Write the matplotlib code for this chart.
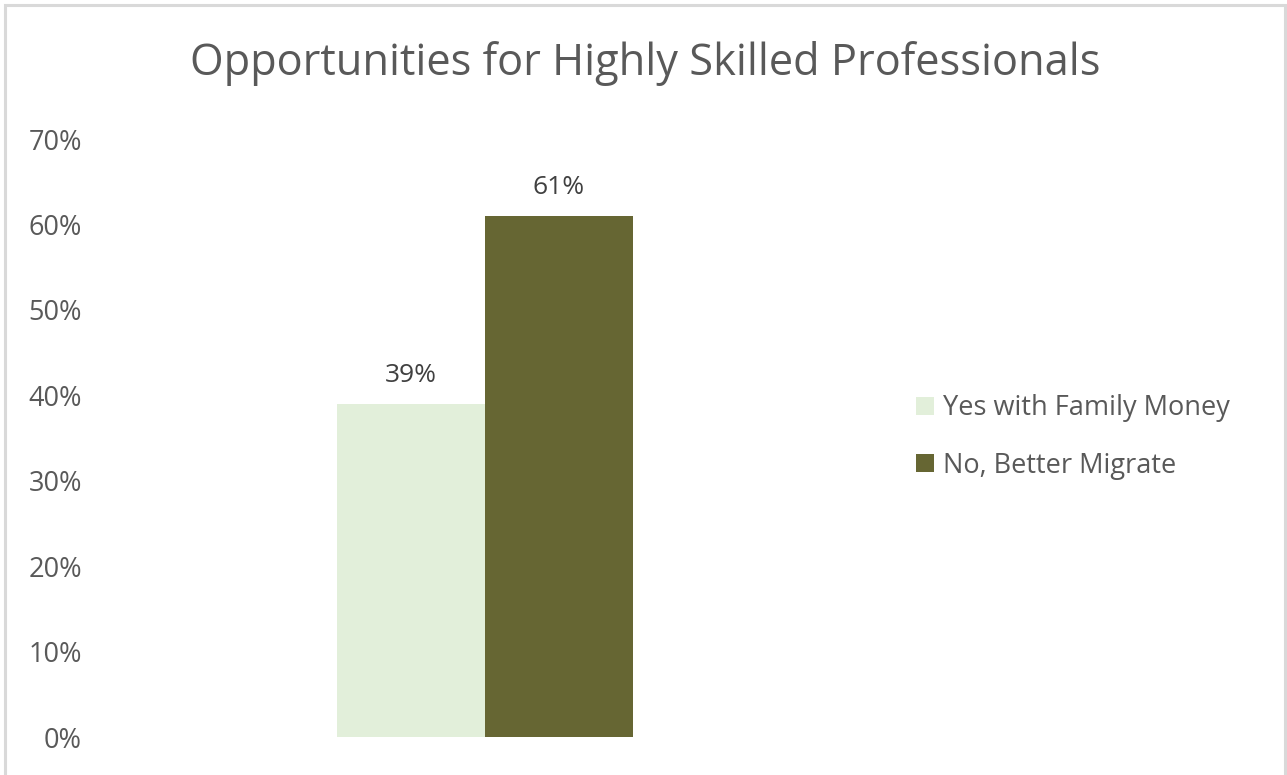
import matplotlib
matplotlib.use("Agg")
import matplotlib.pyplot as plt
from matplotlib.patches import Rectangle
from matplotlib.ticker import FuncFormatter

plt.rcParams['font.family'] = ['Open Sans', 'DejaVu Sans']

title = "Opportunities for Highly Skilled Professionals"
series = ["Yes with Family Money", "No, Better Migrate"]
values = [39, 61]
colors = ["#E2EFDA", "#666633"]
yticks = [0, 10, 20, 30, 40, 50, 60, 70]

TEXT = "#595959"
W, H = 1287, 775
fig = plt.figure(figsize=(W / 100, H / 100), dpi=100)

# light frame around the chart (bottom edge runs off the canvas)
fig.patches.append(Rectangle((4.5 / W, -0.05), (1284.5 - 4.5) / W, 1.05 - 4.5 / H,
                             transform=fig.transFigure, fill=False,
                             edgecolor="#D9D9D9", linewidth=2.2))

# plot area: y=0 at 737 px, y=70 at 139 px
left, right = 100, 870
y0_px, y70_px = 737, 139
ax = fig.add_axes([left / W, 1 - y0_px / H, (right - left) / W, (y0_px - y70_px) / H])
ax.set_ylim(0, 70)
ax.set_xlim(-1, 1)

bar_w = 148 / ((right - left) / 2)
offsets = [-bar_w / 2, bar_w / 2]
for off, v, c, name in zip(offsets, values, colors, series):
    ax.bar(off, v, width=bar_w, color=c, label=name, linewidth=0)
    ax.text(off, v + 1.9, f"{v}%", ha="center", va="bottom",
            fontsize=19, color="#404040")

ax.set_yticks(yticks)
ax.yaxis.set_major_formatter(FuncFormatter(lambda v, p: f"{v:.0f}%"))
ax.tick_params(axis="y", length=0, pad=13, labelsize=19.5, labelcolor=TEXT)
ax.tick_params(axis="x", length=0, labelbottom=False)
for s in ax.spines.values():
    s.set_visible(False)

fig.text(645 / W, 1 - 64 / H, title, ha="center", va="center",
         fontsize=31.2, color=TEXT)

leg = fig.legend(loc="center left", bbox_to_anchor=(892 / W, 1 - 437 / H),
                 frameon=False, fontsize=19.5, labelcolor=TEXT,
                 handlelength=0.65, handleheight=0.65, handletextpad=0.35,
                 labelspacing=1.1)

fig.savefig("out.png", dpi=100)
